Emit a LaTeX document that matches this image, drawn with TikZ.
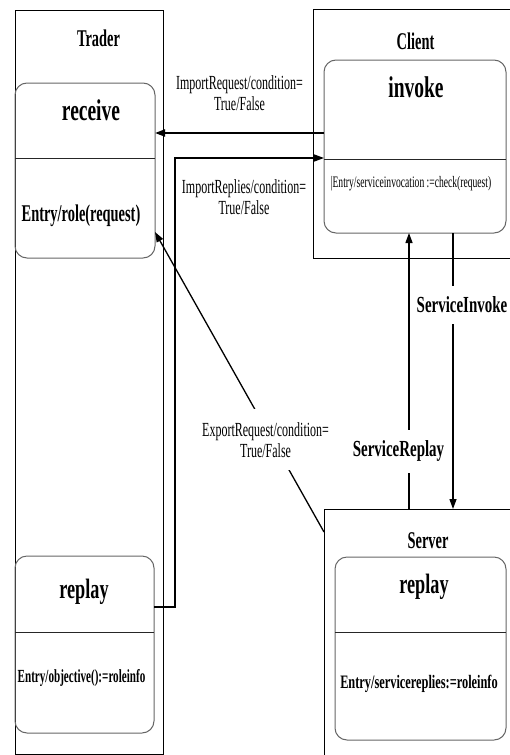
\documentclass[tikz,border=0pt]{standalone}
\usepackage{fontspec}
\setmainfont{Liberation Serif}[FakeStretch=0.6]
\newfontfamily\widecond{Liberation Serif}[FakeStretch=0.65]
\usetikzlibrary{arrows.meta}

\tikzstyle{frame} = [draw=black, line width=0.9pt,
    rectangle, inner sep=0pt, outer sep=0pt]
\tikzstyle{state} = [draw=black!60, line width=1pt, rectangle,
    rounded corners=12pt, inner sep=0pt, outer sep=0pt]
\tikzstyle{sep} = [draw=black!85, line width=1pt]
\tikzstyle{flow} = [draw=black, line width=1.3pt, -{Triangle[length=10pt,width=7pt]}]
\tikzstyle{boxtitle} = [anchor=base, inner sep=0pt, font=\fontsize{24}{26}\selectfont\bfseries]
\tikzstyle{statename} = [anchor=base, inner sep=0pt, font=\widecond\fontsize{30}{32}\selectfont\bfseries]
\tikzstyle{entry} = [anchor=base, inner sep=0pt]
\tikzstyle{cond} = [align=center, inner sep=3pt, font=\fontsize{20}{21}\selectfont]
\tikzstyle{svc} = [fill=white, inner xsep=2pt, inner ysep=11pt, font=\widecond\fontsize{23}{25}\selectfont\bfseries]

\begin{document}
\begin{tikzpicture}[x=1pt,y=-1pt]
\useasboundingbox (0,0) rectangle (510,755);
\clip (0,0) rectangle (510,755);

% swimlanes
\node[frame, minimum width=148, minimum height=744] (trader) at (89,382) {};
\node[frame, minimum width=210, minimum height=249] (client) at (418,133.5) {};
\node[frame, minimum width=200, minimum height=256] (server) at (424,637) {};

\node[boxtitle] (tradername) at (98.5,46.7) {Trader};
\node[boxtitle] (clientname) at (415.5,49) {Client};
\node[boxtitle] (servername) at (428,548) {Server};

% states
\node[state, minimum width=140, minimum height=175] (receive) at (85,170.5) {};
\node[state, minimum width=182, minimum height=173] (invoke) at (415,146.5) {};
\node[state, minimum width=139, minimum height=177] (treplay) at (84.5,644.5) {};
\node[state, minimum width=171, minimum height=183] (sreplay) at (420.5,648.5) {};

\draw[sep] ([yshift=-75pt]receive.north west) -- ([yshift=-75pt]receive.north east);
\draw[sep] ([yshift=-99pt]invoke.north west) -- ([yshift=-99pt]invoke.north east);
\draw[sep] ([yshift=-76pt]treplay.north west) -- ([yshift=-76pt]treplay.north east);
\draw[sep] ([yshift=-75pt]sreplay.north west) -- ([yshift=-75pt]sreplay.north east);

\node[statename] (receivename) at (91,120) {receive};
\node[statename] (invokename) at (416,97) {invoke};
\node[statename, font=\widecond\fontsize{28}{30}\selectfont\bfseries] (treplayname) at (84,598) {replay};
\node[statename, font=\widecond\fontsize{28}{30}\selectfont\bfseries] (sreplayname) at (424,593) {replay};

\node[entry, font=\fontsize{24}{26}\selectfont\bfseries] (receiveentry) at (81,221) {Entry/role(request)};
\node[entry, font=\fontsize{16}{18}\selectfont] (invokeentry) at (411,187) {|Entry/serviceinvocation :=check(request)};
\node[entry, font=\fontsize{18.5}{20}\selectfont\bfseries] (treplayentry) at (81.5,682) {Entry/objective():=roleinfo};
\node[entry, font=\widecond\fontsize{19}{21}\selectfont\bfseries] (sreplayentry) at (419,688) {Entry/servicereplies:=roleinfo};

% transitions
\coordinate (reqpt) at ([yshift=13.5pt]invoke.west);
\draw[flow, line width=2pt] (reqpt) -- (reqpt -| receive.east)
    node[cond, midway, yshift=39.5pt] (reqlabel) {ImportRequest/condition=\\True/False};

\coordinate (repbend) at (175,158);
\draw[flow] ([yshift=37.5pt]treplay.east) -| (repbend) -- (repbend -| invoke.west)
    node[cond, midway, xshift=-5.5pt, yshift=-39pt] (replabel) {ImportReplies/condition=\\True/False};

\draw[flow] ([yshift=-23pt]server.north west) -- ([yshift=26pt]receive.south east)
    node[cond, fill=white, inner ysep=13pt, pos=0.307, xshift=-6.5pt] (explabel) {ExportRequest/condition=\\True/False};

\coordinate (rplpt) at ([xshift=-15pt]server.north);
\draw[flow] (rplpt) -- (rplpt |- invoke.south)
    node[svc, pos=0.21, xshift=-10.5pt] (rpllabel) {ServiceReplay};

\coordinate (invpt) at ([xshift=29pt]server.north);
\draw[flow] (invpt |- invoke.south) -- (invpt)
    node[svc, pos=0.26, xshift=9pt] (invlabel) {ServiceInvoke};

\end{tikzpicture}
\end{document}
